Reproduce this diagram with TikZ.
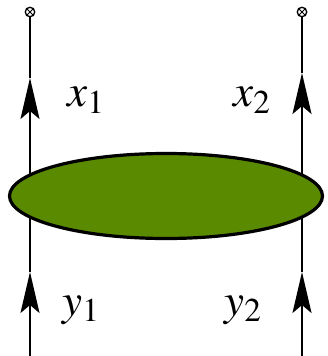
\documentclass[tikz,border=0pt]{standalone}
\usepackage{mathptmx}
\usetikzlibrary{shapes.geometric, arrows.meta}
\definecolor{blobGreen}{RGB}{90,138,0}
\tikzset{
    leg/.style={line width=2pt, black},
    flow/.style={leg, -{Stealth[length=41pt, width=19pt, inset=8pt]}},
    sink/.style={circle, draw, line width=1.3pt, minimum size=9.5pt, inner sep=0pt},
    blob/.style={ellipse, draw, line width=3.2pt, fill=blobGreen,
                 minimum width=313pt, minimum height=85pt},
    lbl/.style={font=\fontsize{45}{45}\selectfont, inner sep=0pt}
}
\begin{document}
\begin{tikzpicture}[x=1pt, y=-1pt]
\useasboundingbox (0,0) rectangle (327,356);

% end points of the two legs
\node[sink] (o1) at (30,12) {};
\node[sink] (o2) at (302,12) {};
\draw[line width=0.9pt] (o1.45) -- (o1.225) (o1.135) -- (o1.-45);
\draw[line width=0.9pt] (o2.45) -- (o2.225) (o2.135) -- (o2.-45);
\coordinate (b1) at (30,356);
\coordinate (b2) at (302,356);
\coordinate (m1) at (30,272);
\coordinate (m2) at (302,272);
\coordinate (t1) at (30,78);
\coordinate (t2) at (302,73);

% legs
\draw[flow] (b1) -- (m1);
\draw[flow] (m1) -- (t1);
\draw[leg] (t1) -- (o1.south);
\draw[flow] (b2) -- (m2);
\draw[flow] (m2) -- (t2);
\draw[leg] (t2) -- (o2.south);

% blob
\node[blob] (core) at (166,196) {};

% labels
\node[lbl] (x1) at (86,100) {$x_1$};
\node[lbl] (x2) at (252,100) {$x_2$};
\node[lbl] (y1) at (81,310) {$y_1$};
\node[lbl] (y2) at (243,310) {$y_2$};

\end{tikzpicture}
\end{document}
